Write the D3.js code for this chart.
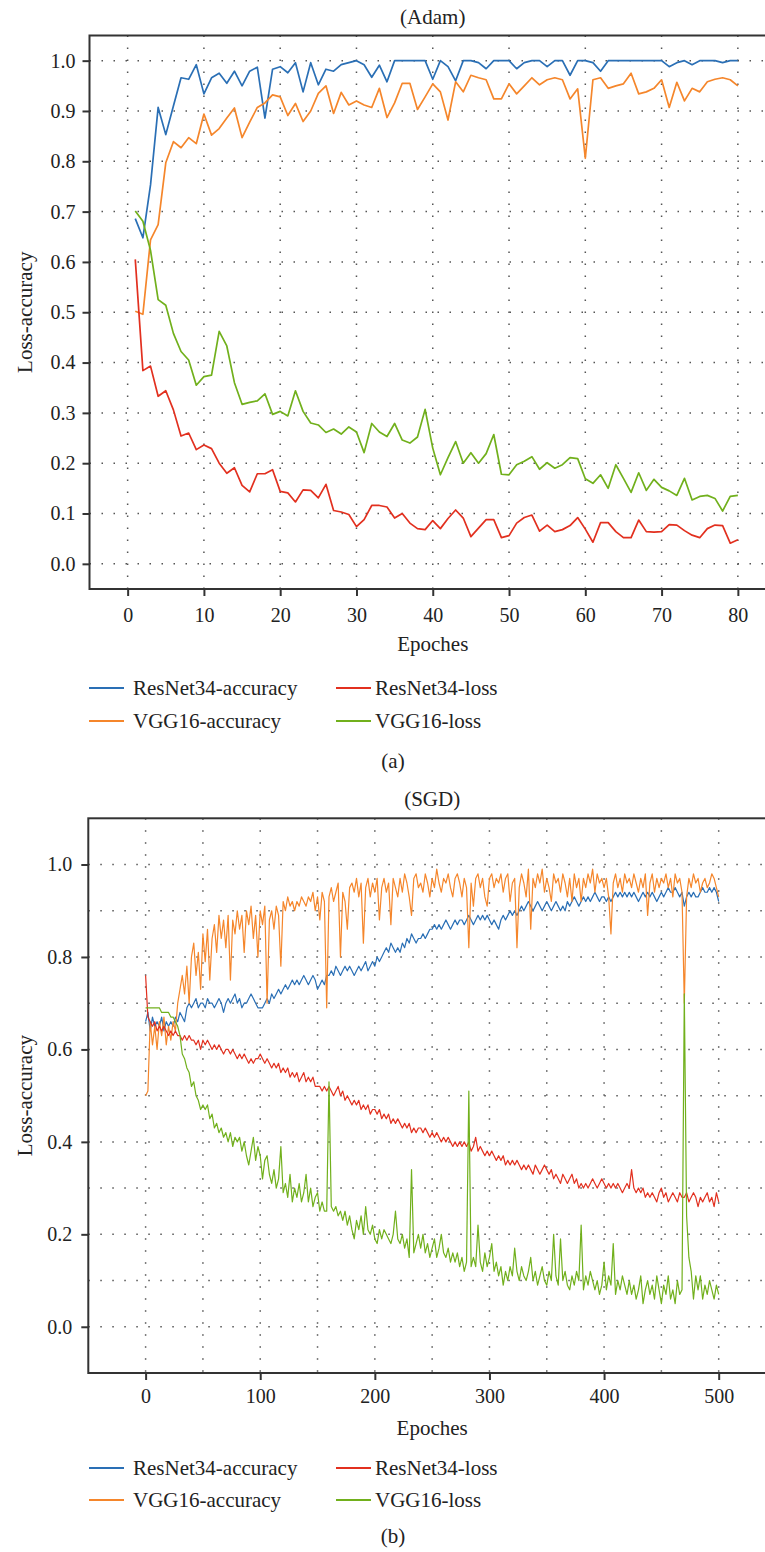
<!DOCTYPE html>
<html>
<head>
<meta charset="utf-8">
<script src="https://cdn.jsdelivr.net/npm/d3@7"></script>
<style>
  body { margin: 0; background: #fff; }
  svg text { font-family: 'Liberation Serif', 'Times New Roman', serif; fill: #222; }
</style>
</head>
<body>
<div id="chart"></div>
<script>
// ---- data -------------------------------------------------------------
const seriesNames = ['ResNet34-accuracy', 'VGG16-accuracy', 'ResNet34-loss', 'VGG16-loss'];

// (a) Adam, epochs 1..80
const adamResNetAcc = [0.686,0.648,0.753,0.907,0.853,0.910,0.966,0.963,0.992,0.934,
  0.966,0.975,0.955,0.979,0.950,0.979,0.987,0.886,0.983,0.988,
  0.976,0.996,0.938,0.996,0.952,0.983,0.979,0.992,0.996,1.000,
  0.992,0.967,0.991,0.958,1.000,1.000,1.000,1.000,1.000,0.963,
  1.000,0.988,0.960,1.000,1.000,0.996,0.984,1.000,1.000,1.000,
  0.984,0.996,1.000,1.000,0.988,1.000,1.000,0.971,1.000,1.000,
  0.996,0.979,1.000,1.000,1.000,1.000,1.000,1.000,1.000,1.000,
  0.988,0.996,1.000,0.992,1.000,1.000,1.000,0.996,1.000,1.000];
const adamVggAcc = [0.502,0.496,0.644,0.674,0.797,0.839,0.827,0.847,0.835,0.894,
  0.852,0.865,0.886,0.906,0.847,0.878,0.907,0.916,0.932,0.928,
  0.891,0.915,0.879,0.900,0.935,0.950,0.895,0.937,0.912,0.920,
  0.912,0.907,0.945,0.887,0.916,0.955,0.955,0.903,0.928,0.954,
  0.938,0.882,0.958,0.938,0.971,0.966,0.962,0.924,0.924,0.954,
  0.934,0.950,0.966,0.952,0.962,0.966,0.962,0.924,0.944,0.806,
  0.962,0.966,0.945,0.950,0.954,0.975,0.934,0.938,0.945,0.962,
  0.907,0.957,0.920,0.945,0.938,0.958,0.963,0.966,0.962,0.950];
const adamResNetLoss = [0.605,0.384,0.393,0.333,0.344,0.306,0.254,0.260,0.227,0.236,
  0.229,0.200,0.180,0.191,0.156,0.143,0.179,0.179,0.187,0.144,
  0.141,0.123,0.147,0.146,0.131,0.158,0.106,0.103,0.098,0.074,
  0.088,0.116,0.116,0.113,0.091,0.100,0.081,0.070,0.068,0.086,
  0.070,0.090,0.107,0.091,0.054,0.071,0.088,0.088,0.052,0.056,
  0.081,0.092,0.097,0.065,0.077,0.064,0.068,0.076,0.092,0.069,
  0.043,0.082,0.082,0.064,0.052,0.052,0.087,0.064,0.063,0.064,
  0.078,0.077,0.066,0.057,0.052,0.070,0.077,0.076,0.041,0.048];
const adamVggLoss = [0.701,0.681,0.623,0.525,0.514,0.458,0.422,0.405,0.355,0.372,
  0.375,0.462,0.433,0.360,0.317,0.321,0.324,0.338,0.297,0.303,
  0.294,0.344,0.303,0.280,0.276,0.261,0.268,0.258,0.272,0.262,
  0.221,0.279,0.262,0.253,0.279,0.246,0.240,0.252,0.307,0.230,
  0.177,0.211,0.243,0.200,0.221,0.200,0.219,0.257,0.178,0.177,
  0.197,0.204,0.213,0.188,0.201,0.190,0.197,0.211,0.209,0.169,
  0.160,0.177,0.150,0.197,0.170,0.142,0.181,0.146,0.168,0.152,
  0.145,0.136,0.170,0.127,0.134,0.136,0.130,0.105,0.134,0.136];

// (b) SGD, read every second epoch 0..500
const sgdResNetAcc = [0.66,0.68,0.64,0.67,0.65,0.66,
  0.65,0.67,0.64,0.66,0.65, 0.66,0.65,0.67,0.66,0.68, 0.67,0.66,0.69,0.70,0.69, 0.70,0.71,0.69,0.70,0.70,
  0.69,0.71,0.70,0.70,0.69, 0.70,0.71,0.70,0.68,0.70, 0.71,0.70,0.71,0.72,0.70, 0.71,0.69,0.70,0.70,0.71,
  0.72,0.71,0.70,0.69,0.69, 0.69,0.70,0.71,0.70,0.72, 0.71,0.72,0.73,0.72,0.73, 0.74,0.73,0.74,0.75,0.74,
  0.75,0.74,0.75,0.76,0.75, 0.74,0.75,0.76,0.75,0.73, 0.74,0.75,0.74,0.76,0.76, 0.77,0.76,0.78,0.77,0.76,
  0.77,0.78,0.77,0.78,0.77, 0.76,0.77,0.78,0.77,0.78, 0.79,0.77,0.78,0.79,0.78, 0.80,0.79,0.80,0.81,0.82,
  0.81,0.83,0.82,0.81,0.82, 0.81,0.83,0.82,0.84,0.83, 0.85,0.84,0.83,0.84,0.84, 0.85,0.84,0.85,0.86,0.86,
  0.87,0.86,0.87,0.86,0.87, 0.88,0.87,0.86,0.87,0.88, 0.87,0.88,0.88,0.87,0.88, 0.89,0.88,0.87,0.88,0.89,
  0.88,0.89,0.88,0.89,0.88, 0.87,0.88,0.87,0.86,0.88, 0.89,0.88,0.89,0.90,0.89, 0.90,0.89,0.90,0.91,0.90,
  0.91,0.92,0.91,0.90,0.91, 0.92,0.91,0.90,0.91,0.92, 0.91,0.90,0.91,0.92,0.91, 0.90,0.91,0.90,0.92,0.91,
  0.92,0.93,0.92,0.91,0.92, 0.93,0.92,0.93,0.92,0.93, 0.94,0.93,0.92,0.93,0.93, 0.92,0.93,0.92,0.93,0.94,
  0.93,0.94,0.93,0.94,0.93, 0.94,0.93,0.94,0.93,0.92, 0.93,0.94,0.93,0.94,0.93, 0.94,0.93,0.92,0.93,0.94,
  0.93,0.94,0.95,0.94,0.94, 0.95,0.94,0.93,0.94,0.91, 0.93,0.94,0.93,0.94,0.93, 0.93,0.94,0.95,0.94,0.94,
  0.95,0.94,0.95,0.94,0.92];
const sgdVggAcc = [0.50,0.51,0.66,0.61,0.65,0.60,
  0.66,0.63,0.67,0.61,0.65, 0.62,0.66,0.64,0.70,0.73, 0.76,0.72,0.78,0.70,0.80, 0.83,0.76,0.81,0.73,0.85,
  0.79,0.86,0.75,0.84,0.87, 0.81,0.89,0.84,0.88,0.82, 0.89,0.75,0.88,0.85,0.90, 0.86,0.89,0.81,0.90,0.87,
  0.91,0.84,0.89,0.80,0.90, 0.87,0.91,0.70,0.88,0.90, 0.86,0.91,0.89,0.78,0.92, 0.90,0.93,0.91,0.92,0.90,
  0.92,0.91,0.93,0.92,0.91, 0.93,0.92,0.94,0.90,0.93, 0.88,0.94,0.92,0.69,0.93, 0.95,0.92,0.94,0.96,0.80,
  0.94,0.92,0.86,0.95,0.96, 0.94,0.97,0.93,0.96,0.83, 0.95,0.97,0.93,0.96,0.94, 0.97,0.88,0.95,0.97,0.94,
  0.96,0.87,0.97,0.95,0.93, 0.97,0.94,0.98,0.96,0.93, 0.89,0.97,0.98,0.95,0.96, 0.94,0.98,0.96,0.93,0.97,
  0.95,0.99,0.96,0.94,0.97, 0.96,0.98,0.95,0.93,0.97, 0.98,0.96,0.93,0.97,0.95, 0.82,0.96,0.91,0.97,0.98,
  0.95,0.97,0.93,0.91,0.97, 0.98,0.95,0.97,0.96,0.98, 0.94,0.97,0.98,0.92,0.96, 0.97,0.82,0.95,0.98,0.96,
  0.93,0.99,0.86,0.97,0.95, 0.98,0.96,0.99,0.94,0.97, 0.95,0.92,0.98,0.96,0.97, 0.94,0.98,0.96,0.93,0.97,
  0.92,0.98,0.95,0.97,0.92, 0.97,0.95,0.98,0.96,0.99, 0.94,0.98,0.96,0.97,0.95, 0.97,0.93,0.85,0.96,0.98,
  0.95,0.97,0.94,0.98,0.96, 0.97,0.95,0.98,0.96,0.94, 0.97,0.95,0.98,0.89,0.96, 0.98,0.94,0.97,0.95,0.97,
  0.96,0.98,0.95,0.97,0.93, 0.98,0.96,0.97,0.94,0.70, 0.93,0.97,0.95,0.98,0.96, 0.97,0.94,0.96,0.97,0.95,
  0.96,0.98,0.97,0.95,0.93];
const sgdResNetLoss = [0.76,0.67,0.66,0.65,0.66,0.64,
  0.65,0.64,0.65,0.64,0.63, 0.64,0.63,0.64,0.63,0.63, 0.62,0.63,0.62,0.63,0.62, 0.62,0.61,0.62,0.60,0.62,
  0.61,0.62,0.61,0.60,0.61, 0.60,0.61,0.60,0.59,0.60, 0.60,0.59,0.60,0.59,0.58, 0.59,0.58,0.59,0.58,0.57,
  0.58,0.57,0.58,0.58,0.59, 0.58,0.57,0.58,0.57,0.56, 0.57,0.56,0.57,0.55,0.56, 0.55,0.56,0.54,0.55,0.54,
  0.55,0.53,0.54,0.55,0.53, 0.54,0.53,0.54,0.52,0.52, 0.52,0.51,0.52,0.51,0.52, 0.51,0.50,0.51,0.52,0.50,
  0.51,0.49,0.50,0.49,0.48, 0.49,0.48,0.49,0.47,0.48, 0.47,0.48,0.46,0.47,0.47, 0.46,0.47,0.45,0.46,0.45,
  0.46,0.44,0.45,0.44,0.45, 0.44,0.43,0.44,0.43,0.44, 0.42,0.43,0.42,0.43,0.43, 0.42,0.43,0.42,0.41,0.42,
  0.41,0.42,0.41,0.40,0.41, 0.40,0.41,0.40,0.39,0.40, 0.39,0.40,0.39,0.40,0.39, 0.40,0.38,0.39,0.41,0.38,
  0.39,0.38,0.37,0.38,0.37, 0.38,0.37,0.36,0.37,0.36, 0.37,0.35,0.36,0.35,0.36, 0.35,0.36,0.35,0.34,0.35,
  0.34,0.35,0.34,0.33,0.35, 0.34,0.33,0.34,0.35,0.34, 0.33,0.34,0.32,0.33,0.32, 0.31,0.33,0.32,0.31,0.32,
  0.33,0.31,0.32,0.30,0.31, 0.30,0.31,0.30,0.31,0.32, 0.31,0.30,0.31,0.32,0.31, 0.30,0.31,0.30,0.31,0.30,
  0.31,0.30,0.29,0.30,0.31, 0.30,0.34,0.30,0.29,0.30, 0.29,0.30,0.28,0.29,0.28, 0.29,0.28,0.27,0.29,0.30,
  0.28,0.29,0.27,0.28,0.29, 0.28,0.27,0.29,0.28,0.28, 0.29,0.27,0.28,0.29,0.28, 0.26,0.28,0.27,0.28,0.29,
  0.27,0.28,0.26,0.29,0.27];
const sgdVggLoss = [0.69,0.69,0.69,0.69,0.69,0.69,
  0.69,0.68,0.68,0.68,0.68, 0.67,0.67,0.66,0.65,0.63, 0.59,0.58,0.56,0.55,0.52, 0.53,0.50,0.49,0.47,0.48,
  0.47,0.48,0.45,0.46,0.43, 0.44,0.42,0.43,0.41,0.42, 0.40,0.42,0.39,0.41,0.40, 0.41,0.38,0.40,0.37,0.35,
  0.38,0.41,0.36,0.39,0.37, 0.32,0.36,0.37,0.33,0.31, 0.34,0.30,0.32,0.39,0.29, 0.31,0.28,0.33,0.27,0.30,
  0.28,0.31,0.27,0.29,0.33, 0.27,0.30,0.26,0.28,0.29, 0.25,0.27,0.25,0.25,0.53, 0.26,0.25,0.26,0.24,0.25,
  0.23,0.25,0.22,0.24,0.21, 0.19,0.23,0.21,0.24,0.20, 0.26,0.21,0.20,0.22,0.19, 0.18,0.21,0.19,0.21,0.20,
  0.19,0.18,0.20,0.25,0.19, 0.18,0.20,0.17,0.19,0.15, 0.34,0.16,0.18,0.20,0.17, 0.20,0.16,0.18,0.15,0.17,
  0.19,0.15,0.17,0.20,0.16, 0.15,0.17,0.14,0.16,0.14, 0.16,0.13,0.15,0.12,0.14, 0.51,0.13,0.15,0.13,0.22,
  0.14,0.12,0.16,0.13,0.15, 0.18,0.12,0.14,0.11,0.13, 0.09,0.12,0.10,0.13,0.11, 0.17,0.12,0.10,0.13,0.11,
  0.10,0.12,0.15,0.10,0.12, 0.09,0.11,0.13,0.10,0.09, 0.12,0.10,0.20,0.11,0.09, 0.19,0.10,0.12,0.09,0.08,
  0.11,0.09,0.12,0.10,0.22, 0.08,0.11,0.09,0.12,0.10, 0.08,0.10,0.07,0.09,0.14, 0.08,0.11,0.09,0.18,0.07,
  0.10,0.08,0.11,0.09,0.07, 0.10,0.07,0.09,0.06,0.08, 0.11,0.05,0.08,0.10,0.07, 0.09,0.06,0.11,0.08,0.05,
  0.09,0.07,0.11,0.06,0.08, 0.05,0.10,0.07,0.08,0.72, 0.24,0.15,0.12,0.06,0.11, 0.08,0.11,0.06,0.09,0.07,
  0.10,0.08,0.06,0.09,0.07];

const adamXTicks = [0, 10, 20, 30, 40, 50, 60, 70, 80];
const adamYTicks = [0.0, 0.1, 0.2, 0.3, 0.4, 0.5, 0.6, 0.7, 0.8, 0.9, 1.0];
const sgdXTicks = [0, 100, 200, 300, 400, 500];
const sgdXGrid = [0, 50, 100, 150, 200, 250, 300, 350, 400, 450, 500];
const sgdYTicks = [0.0, 0.2, 0.4, 0.6, 0.8, 1.0];
const sgdYGrid = [0.0, 0.1, 0.2, 0.3, 0.4, 0.5, 0.6, 0.7, 0.8, 0.9, 1.0];

// ---- style --------------------------------------------------------------
const colors = ['#2a6fb5', '#f5862b', '#e2301f', '#71b01c'];
const tickSize = 20;
const labelSize = 21;

const svg = d3.select('#chart').append('svg')
  .attr('width', 765).attr('height', 1552)
  .attr('viewBox', '0 0 765 1552');

const panels = [
  {
    title: '(Adam)', caption: '(a)',
    epochs: adamResNetAcc.map((d, i) => i + 1),
    series: [adamResNetAcc, adamVggAcc, adamResNetLoss, adamVggLoss],
    xTicks: adamXTicks, yTicks: adamYTicks, xGrid: adamXTicks, yGrid: adamYTicks,
    xDomain: [-5, 85], yDomain: [-0.05, 1.05],
    box: { left: 89.5, right: 776, top: 35.5, bottom: 589 },
    titleY: 17, xPad: 12, yPad: 7, xLabelY: 644, legendY: [688, 721], captionY: 761, lineWidth: 1.7
  },
  {
    title: '(SGD)', caption: '(b)',
    epochs: sgdResNetAcc.map((d, i) => i * 2),
    series: [sgdResNetAcc, sgdVggAcc, sgdResNetLoss, sgdVggLoss],
    xTicks: sgdXTicks, yTicks: sgdYTicks, xGrid: sgdXGrid, yGrid: sgdYGrid,
    xDomain: [-50, 550], yDomain: [-0.1, 1.1],
    box: { left: 88.3, right: 776, top: 818.3, bottom: 1373 },
    titleY: 799, xPad: 9, yPad: 9, xLabelY: 1428, legendY: [1468, 1500], captionY: 1536, lineWidth: 1.2
  }
];

panels.forEach((p) => {
  const { left, right, top, bottom } = p.box;
  const x = d3.scaleLinear().domain(p.xDomain).range([left, right]);
  const y = d3.scaleLinear().domain(p.yDomain).range([bottom, top]);
  const g = svg.append('g');

  // dotted grid
  g.append('g').selectAll('line').data(p.xGrid).enter().append('line')
    .attr('x1', (d) => x(d)).attr('x2', (d) => x(d))
    .attr('y1', top).attr('y2', bottom)
    .attr('stroke', '#555').attr('stroke-width', 1.5).attr('stroke-dasharray', '1.5 10.5');
  g.append('g').selectAll('line').data(p.yGrid).enter().append('line')
    .attr('x1', left).attr('x2', right)
    .attr('y1', (d) => y(d)).attr('y2', (d) => y(d))
    .attr('stroke', '#555').attr('stroke-width', 1.5).attr('stroke-dasharray', '1.5 10.5');

  // series
  const line = d3.line().x((d, i) => x(p.epochs[i])).y((d) => y(d));
  p.series.forEach((s, k) => {
    g.append('path').datum(s)
      .attr('d', line)
      .attr('fill', 'none')
      .attr('stroke', colors[k])
      .attr('stroke-width', p.lineWidth)
      .attr('stroke-linejoin', 'round');
  });

  // frame
  g.append('rect')
    .attr('x', left).attr('y', top)
    .attr('width', right - left).attr('height', bottom - top)
    .attr('fill', 'none').attr('stroke', '#333').attr('stroke-width', 2);

  // axes
  const axisX = g.append('g').attr('transform', `translate(0,${bottom})`)
    .call(d3.axisBottom(x).tickValues(p.xTicks).tickSize(7).tickPadding(p.xPad).tickFormat(d3.format('d')));
  const axisY = g.append('g').attr('transform', `translate(${left},0)`)
    .call(d3.axisLeft(y).tickValues(p.yTicks).tickSize(7).tickPadding(p.yPad).tickFormat(d3.format('.1f')));
  [axisX, axisY].forEach((a) => {
    a.select('.domain').remove();
    a.selectAll('.tick line').attr('stroke', '#333').attr('stroke-width', 2);
    a.selectAll('.tick text').style('font-size', tickSize + 'px').style('font-family', null).attr('fill', '#222');
  });

  // labels
  g.append('text').text(p.title)
    .attr('x', (left + right) / 2).attr('y', p.titleY).attr('dy', '0.35em')
    .attr('text-anchor', 'middle').style('font-size', labelSize + 'px');
  g.append('text').text('Epoches')
    .attr('x', (left + right) / 2).attr('y', p.xLabelY).attr('dy', '0.35em')
    .attr('text-anchor', 'middle').style('font-size', labelSize + 'px');
  g.append('text').text('Loss-accuracy')
    .attr('transform', `translate(25,${(top + bottom) / 2}) rotate(-90)`)
    .attr('dy', '0.35em')
    .attr('text-anchor', 'middle').style('font-size', labelSize + 'px');
  g.append('text').text(p.caption)
    .attr('x', 393).attr('y', p.captionY).attr('dy', '0.35em')
    .attr('text-anchor', 'middle').style('font-size', labelSize + 'px');

  // legend, two columns filled top to bottom
  const legendX = [89, 336];
  const legendGap = [44, 39];
  seriesNames.forEach((name, k) => {
    const col = Math.floor(k / 2);
    const lx = legendX[col];
    const ly = p.legendY[k % 2];
    const item = g.append('g').attr('transform', `translate(${lx},${ly})`);
    item.append('line').attr('x1', 0).attr('x2', 35).attr('y1', 0).attr('y2', 0)
      .attr('stroke', colors[k]).attr('stroke-width', 2);
    item.append('text').text(name).attr('x', legendGap[col]).attr('dy', '0.35em')
      .style('font-size', labelSize + 'px');
  });
});
</script>
</body>
</html>
